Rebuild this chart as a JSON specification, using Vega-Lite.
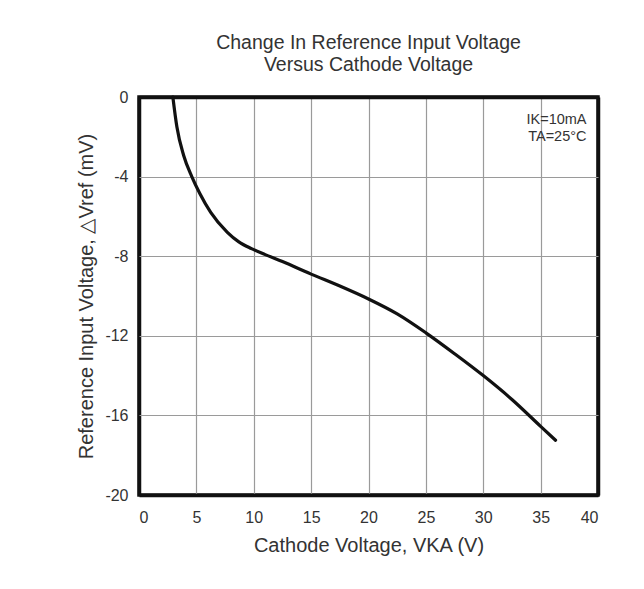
{
  "$schema": "https://vega.github.io/schema/vega-lite/v6.json",
  "autosize": "none",
  "width": 459,
  "height": 398,
  "padding": {"left": 139, "top": 97, "right": 46, "bottom": 94},
  "background": "white",
  "title": {
    "text": ["Change In Reference Input Voltage", "Versus Cathode Voltage"],
    "font": "Liberation Sans",
    "fontSize": 19.5,
    "fontWeight": "normal",
    "color": "#333333",
    "lineHeight": 22,
    "anchor": "middle",
    "offset": 14
  },
  "config": {
    "view": {"stroke": "#111111", "strokeWidth": 3.5},
    "axis": {
      "domain": false,
      "ticks": false,
      "grid": true,
      "gridColor": {"condition": {"test": "datum.value === 0 || datum.value === 40 || datum.value === -20", "value": "#111111"}, "value": "#9a9a9a"},
      "gridWidth": {"condition": {"test": "datum.value === 0 || datum.value === 40 || datum.value === -20", "value": 3.5}, "value": 1.2},
      "gridOpacity": 1,
      "labelFont": "Liberation Sans",
      "labelFontSize": 16,
      "labelColor": "#333333",
      "labelExpr": "'' + datum.value",
      "titleFont": "Liberation Sans",
      "titleFontSize": 20,
      "titleFontWeight": "normal",
      "titleColor": "#333333"
    }
  },
  "datasets": {
    "curve": [
      {"v": 2.95, "d": 0},
      {"v": 3.3, "d": -1.5},
      {"v": 3.9, "d": -2.95},
      {"v": 4.6, "d": -4.0},
      {"v": 5.3, "d": -4.85},
      {"v": 6.25, "d": -5.8},
      {"v": 7.7, "d": -6.8},
      {"v": 8.7, "d": -7.28},
      {"v": 9.8, "d": -7.62},
      {"v": 11, "d": -7.92},
      {"v": 12.5, "d": -8.27},
      {"v": 15, "d": -8.9},
      {"v": 17.5, "d": -9.5},
      {"v": 20, "d": -10.15},
      {"v": 22.5, "d": -10.9},
      {"v": 25, "d": -11.85},
      {"v": 27.5, "d": -12.9},
      {"v": 30, "d": -14.0},
      {"v": 32.5, "d": -15.2},
      {"v": 35, "d": -16.55},
      {"v": 36.3, "d": -17.25}
    ],
    "notes": [
      {"v": 39.0, "d": -1.15, "t": "IK=10mA"},
      {"v": 39.0, "d": -2.0, "t": "TA=25°C"}
    ]
  },
  "layer": [
    {
      "data": {"name": "curve"},
      "mark": {"type": "line", "color": "#111111", "strokeWidth": 3.2, "interpolate": "monotone", "strokeCap": "round"},
      "encoding": {
        "x": {
          "field": "v", "type": "quantitative",
          "scale": {"domain": [0, 40], "nice": false},
          "axis": {"values": [0, 5, 10, 15, 20, 25, 30, 35, 40], "title": "Cathode Voltage, VKA (V)", "labelPadding": 14, "titlePadding": 10}
        },
        "y": {
          "field": "d", "type": "quantitative",
          "scale": {"domain": [-20, 0], "nice": false},
          "axis": {"values": [0, -4, -8, -12, -16, -20], "title": "Reference Input Voltage, △Vref (mV)", "labelPadding": 11, "titlePadding": 8}
        }
      }
    },
    {
      "data": {"name": "notes"},
      "mark": {"type": "text", "align": "right", "baseline": "middle", "font": "Liberation Sans", "fontSize": 14.5, "color": "#333333"},
      "encoding": {
        "x": {"field": "v", "type": "quantitative"},
        "y": {"field": "d", "type": "quantitative"},
        "text": {"field": "t"}
      }
    }
  ]
}
